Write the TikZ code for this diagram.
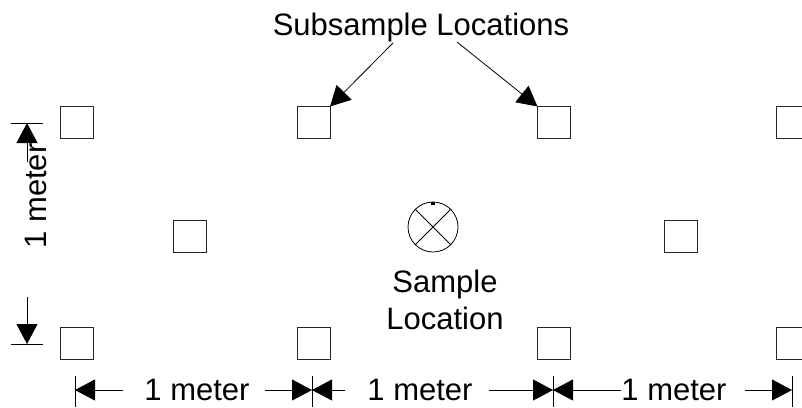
\documentclass[tikz,border=0pt]{standalone}
\usepackage{fontspec}
\setmainfont{Liberation Sans}
\usetikzlibrary{arrows.meta}
\tikzset{
  sq/.style={draw=black!85, line width=0.9pt, minimum width=33pt, minimum height=32pt, inner sep=0pt, outer sep=0pt},
  lbl/.style={font=\fontsize{31}{37}\selectfont, inner sep=0pt, align=center},
  onelbl/.style={font=\fontsize{31}{37}\selectfont, inner sep=0pt},
  dimline/.style={line width=0.8pt, -{Triangle[length=20pt,width=21pt]}},
  callout/.style={line width=0.8pt, -{Triangle[length=20pt,width=21pt]}},
  tick/.style={line width=0.8pt}
}
\begin{document}
\begin{tikzpicture}[x=1pt,y=-1pt]
\useasboundingbox (0,0) rectangle (802,407);
% squares
\node[sq] (t1) at (76.5,122.5) {};
\node[sq] (t2) at (313.5,122.5) {};
\node[sq] (t3) at (554,122.5) {};
\node[sq] (t4) at (792.5,122.5) {};
\node[sq] (m1) at (189.5,236) {};
\node[sq] (m2) at (680.5,236) {};
\node[sq] (b1) at (76.5,343) {};
\node[sq] (b2) at (313.5,343) {};
\node[sq] (b3) at (554,343) {};
\node[sq] (b4) at (792.5,343) {};
% sample location
\node[draw, circle, line width=0.8pt, minimum size=50pt, inner sep=0pt] (s) at (433,227) {};
\draw[line width=0.8pt] (s.north west) -- (s.south east) (s.north east) -- (s.south west);
\fill (s.north) ++(-2,0) rectangle ++(4,3.5);
\node[lbl, anchor=base] (st) at (445,329) {Sample\\Location};
% subsample label
\node[onelbl, anchor=base] (sub) at (421,35) {Subsample Locations};
\coordinate (c1) at (393,43);
\coordinate (c2) at (457,42);
\draw[callout] (c1) -- (t2.north east);
\draw[callout] (c2) -- (t3.north west);
% left vertical dimension
\coordinate (v1) at (11,123);
\coordinate (v1e) at (43,123);
\coordinate (v2) at (11,344);
\coordinate (v2e) at (43,344);
\draw[tick] (v1) -- (v1e) (v2) -- (v2e);
\coordinate (va) at (27,162);
\coordinate (vat) at (27,123);
\coordinate (vb) at (27,297);
\coordinate (vbt) at (27,344);
\draw[dimline] (va) -- (vat);
\draw[dimline] (vb) -- (vbt);
\node[onelbl, rotate=90, anchor=base] (vl) at (46,196) {1 meter};
% bottom dimension
\foreach \n/\x in {k1/75,k2/312,k3/553,k4/792}{
  \coordinate (\n a) at (\x,376);
  \coordinate (\n b) at (\x,407);
  \coordinate (\n) at (\x,390);
  \draw[tick] (\n a) -- (\n b);
}
\coordinate (d1l) at (123,390);
\coordinate (d1r) at (265,390);
\coordinate (d2l) at (345,390);
\coordinate (d2r) at (489,390);
\coordinate (d3l) at (621,390);
\coordinate (d3r) at (745,390);
\draw[dimline] (d1l) -- (k1);
\draw[dimline] (d1r) -- (k2);
\draw[dimline] (d2l) -- (k2);
\draw[dimline] (d2r) -- (k3);
\draw[dimline] (d3l) -- (k3);
\draw[dimline] (d3r) -- (k4);
\node[onelbl, anchor=base] (dl1) at (197,400) {1 meter};
\node[onelbl, anchor=base] (dl2) at (420,400) {1 meter};
\node[onelbl, anchor=base] (dl3) at (674,400) {1 meter};
\end{tikzpicture}
\end{document}
